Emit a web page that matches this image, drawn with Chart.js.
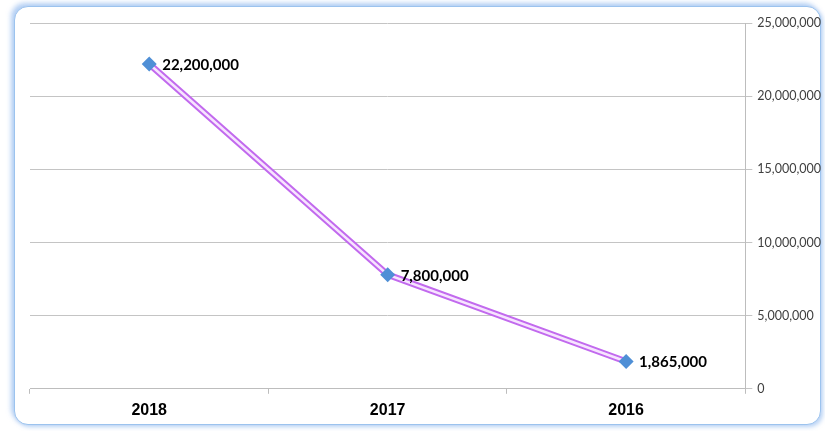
<!DOCTYPE html>
<html>
<head>
<meta charset="utf-8">
<script src="https://cdn.jsdelivr.net/npm/chart.js@4/dist/chart.umd.min.js"></script>
<style>
  html, body { margin: 0; padding: 0; background: #ffffff; width: 825px; height: 431px; overflow: hidden; }
  #box {
    position: absolute; left: 14px; top: 6px; width: 805px; height: 417px;
    border: 1px solid #9CC3EE; border-radius: 14px; background: #fff;
    box-shadow: -3px -3px 5px rgba(120,170,235,0.55), 2px 2px 4px rgba(120,170,235,0.5);
  }
  #c { position: absolute; left: 0; top: 0; }
</style>
</head>
<body>
<div id="box"><canvas id="c" width="811" height="420"></canvas></div>
<script>
const categories = ["2018", "2017", "2016"];
const values = [22200000, 7800000, 1865000];
const yTickStep = 5000000;
const yMax = 25000000;

const fmt = v => v.toLocaleString('en-US');

const labelPlugin = {
  id: 'valueLabels',
  afterDatasetsDraw(chart) {
    const ctx = chart.ctx;
    const meta = chart.getDatasetMeta(2);
    ctx.save();
    ctx.font = 'bold 15px Lato, "Open Sans", sans-serif';
    ctx.fillStyle = '#000';
    ctx.textAlign = 'left';
    ctx.textBaseline = 'middle';
    meta.data.forEach((pt, i) => {
      ctx.fillText(fmt(values[i]), pt.x + 13, pt.y + 1);
    });
    ctx.restore();
  }
};

new Chart(document.getElementById('c'), {
  type: 'line',
  data: {
    labels: categories,
    datasets: [
      { data: values, borderColor: '#C26AEE', borderWidth: 6.5, pointRadius: 0, tension: 0, order: 3 },
      { data: values, borderColor: '#F7E4FF', borderWidth: 2.5, pointRadius: 0, tension: 0, order: 2 },
      { data: values, showLine: false, pointStyle: 'rectRot', pointRadius: 7.5, pointHoverRadius: 7.5,
        pointBackgroundColor: '#4F8FD6', pointBorderColor: '#4F8FD6', pointBorderWidth: 0, order: 1 }
    ]
  },
  options: {
    responsive: false,
    animation: false,
    events: [],
    layout: { padding: { left: 15, top: 16, right: 0, bottom: 0 } },
    plugins: { legend: { display: false }, tooltip: { enabled: false } },
    scales: {
      x: {
        offset: true,
        grid: { offset: true, drawOnChartArea: false, tickLength: 5, color: '#BDBDBD' },
        border: { color: '#BDBDBD' },
        ticks: { color: '#000', font: { family: '"Liberation Sans", Arial, sans-serif', size: 16, weight: 'bold' }, padding: 7 }
      },
      y: {
        position: 'right',
        min: 0, max: yMax,
        grid: { color: '#C4C4C4', tickLength: 7 },
        border: { color: '#BDBDBD' },
        ticks: { stepSize: yTickStep, color: '#404040', font: { family: 'Lato, "Open Sans", sans-serif', size: 12.5 }, padding: 5,
                 callback: v => fmt(v) }
      }
    }
  },
  plugins: [labelPlugin]
});
</script>
</body>
</html>
